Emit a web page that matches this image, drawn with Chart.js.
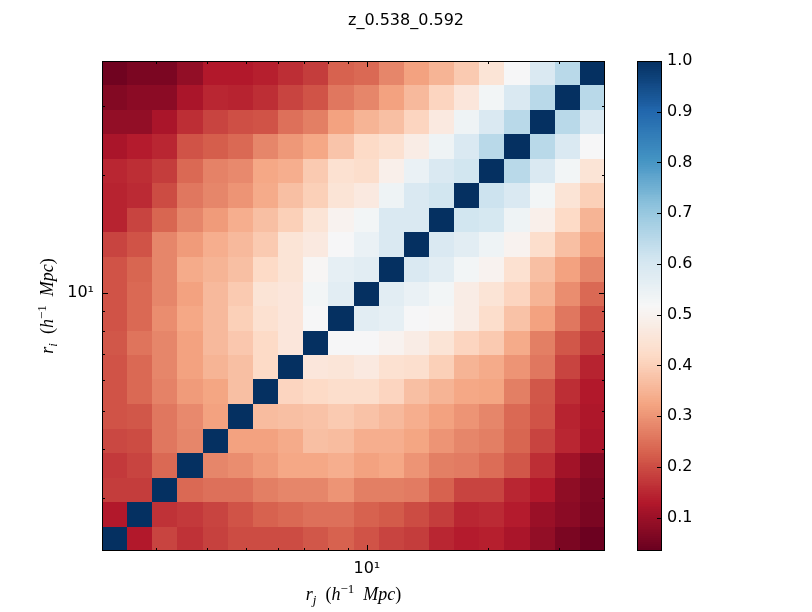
<!DOCTYPE html>
<html>
<head>
<meta charset="utf-8">
<title>z_0.538_0.592</title>
<script src="https://cdn.jsdelivr.net/npm/chart.js@4.4.1/dist/chart.umd.min.js"></script>
<style>
  html, body { margin: 0; padding: 0; background: #fff; }
  #wrap { width: 812px; height: 612px; }
</style>
</head>
<body>
<div id="wrap"><canvas id="corrChart" width="812" height="612"></canvas></div>
<script>
// ---- data ----
const chartTitle = 'z_0.538_0.592';

// log-spaced bin edges in h^-1 Mpc (same for r_i and r_j)
const binEdges = [2.200, 2.540, 2.933, 3.386, 3.910, 4.514, 5.212, 6.018, 6.948, 8.022,
                  9.263, 10.69, 12.35, 14.26, 16.46, 19.01, 21.94, 25.34, 29.26, 33.78, 39.00];

// correlation matrix, row 0 = smallest r_i (bottom), column 0 = smallest r_j (left)
const corrRows = [
  [1.00, 0.13, 0.19, 0.165, 0.185, 0.20, 0.20, 0.20, 0.215, 0.23, 0.21, 0.19, 0.18, 0.15, 0.135, 0.14, 0.12, 0.09, 0.06, 0.04],
  [0.13, 1.00, 0.165, 0.175, 0.19, 0.21, 0.23, 0.24, 0.25, 0.25, 0.23, 0.22, 0.20, 0.18, 0.15, 0.155, 0.135, 0.10, 0.08, 0.06],
  [0.18, 0.18, 1.00, 0.24, 0.25, 0.25, 0.27, 0.28, 0.28, 0.30, 0.27, 0.27, 0.265, 0.23, 0.19, 0.19, 0.15, 0.13, 0.085, 0.065],
  [0.175, 0.19, 0.24, 1.00, 0.28, 0.29, 0.31, 0.33, 0.33, 0.34, 0.32, 0.33, 0.30, 0.27, 0.265, 0.245, 0.215, 0.16, 0.11, 0.075],
  [0.195, 0.20, 0.26, 0.28, 1.00, 0.32, 0.32, 0.335, 0.37, 0.365, 0.34, 0.34, 0.325, 0.30, 0.28, 0.27, 0.235, 0.19, 0.15, 0.12],
  [0.21, 0.215, 0.26, 0.285, 0.32, 1.00, 0.365, 0.37, 0.375, 0.39, 0.375, 0.36, 0.34, 0.32, 0.30, 0.28, 0.24, 0.21, 0.145, 0.125],
  [0.21, 0.24, 0.275, 0.31, 0.325, 0.37, 1.00, 0.41, 0.42, 0.43, 0.43, 0.41, 0.37, 0.35, 0.33, 0.325, 0.27, 0.215, 0.16, 0.13],
  [0.21, 0.24, 0.28, 0.32, 0.35, 0.37, 0.42, 1.00, 0.46, 0.455, 0.47, 0.44, 0.435, 0.40, 0.35, 0.335, 0.30, 0.26, 0.19, 0.145],
  [0.215, 0.255, 0.28, 0.32, 0.36, 0.385, 0.42, 0.46, 1.00, 0.52, 0.52, 0.50, 0.48, 0.45, 0.41, 0.39, 0.335, 0.27, 0.215, 0.18],
  [0.21, 0.24, 0.29, 0.33, 0.36, 0.40, 0.44, 0.46, 0.52, 1.00, 0.57, 0.56, 0.52, 0.51, 0.48, 0.43, 0.375, 0.32, 0.26, 0.21],
  [0.21, 0.24, 0.28, 0.32, 0.36, 0.39, 0.45, 0.46, 0.53, 0.57, 1.00, 0.57, 0.55, 0.53, 0.48, 0.45, 0.41, 0.35, 0.29, 0.24],
  [0.21, 0.235, 0.28, 0.335, 0.35, 0.37, 0.42, 0.45, 0.51, 0.56, 0.57, 1.00, 0.59, 0.57, 0.53, 0.50, 0.44, 0.37, 0.32, 0.28],
  [0.19, 0.21, 0.28, 0.31, 0.34, 0.36, 0.39, 0.45, 0.47, 0.52, 0.55, 0.59, 1.00, 0.59, 0.57, 0.54, 0.50, 0.43, 0.37, 0.32],
  [0.145, 0.19, 0.235, 0.28, 0.31, 0.34, 0.37, 0.40, 0.45, 0.50, 0.53, 0.59, 0.59, 1.00, 0.61, 0.60, 0.54, 0.49, 0.42, 0.35],
  [0.145, 0.155, 0.20, 0.26, 0.28, 0.30, 0.335, 0.37, 0.40, 0.45, 0.47, 0.54, 0.59, 0.61, 1.00, 0.62, 0.59, 0.53, 0.45, 0.40],
  [0.15, 0.16, 0.18, 0.24, 0.275, 0.285, 0.33, 0.34, 0.39, 0.44, 0.43, 0.49, 0.55, 0.59, 0.61, 1.00, 0.65, 0.59, 0.53, 0.45],
  [0.12, 0.135, 0.15, 0.21, 0.225, 0.24, 0.28, 0.305, 0.33, 0.38, 0.42, 0.44, 0.48, 0.54, 0.59, 0.65, 1.00, 0.65, 0.59, 0.52],
  [0.09, 0.09, 0.12, 0.16, 0.19, 0.205, 0.21, 0.25, 0.27, 0.32, 0.35, 0.37, 0.41, 0.47, 0.54, 0.59, 0.65, 1.00, 0.65, 0.59],
  [0.07, 0.08, 0.08, 0.12, 0.15, 0.145, 0.16, 0.19, 0.21, 0.26, 0.28, 0.32, 0.36, 0.41, 0.46, 0.53, 0.59, 0.65, 1.00, 0.65],
  [0.045, 0.06, 0.06, 0.09, 0.13, 0.13, 0.14, 0.16, 0.18, 0.23, 0.24, 0.28, 0.32, 0.35, 0.39, 0.45, 0.52, 0.59, 0.65, 1.00]
];

const axisTicks = [3, 4, 5, 6, 7, 8, 9, 10, 20, 30];
const majorTicks = [10];
const cbarTicks = [0.1, 0.2, 0.3, 0.4, 0.5, 0.6, 0.7, 0.8, 0.9, 1.0];
const cbarMin = 0.034;
const cbarMax = 1.0;

// matplotlib RdBu anchor colours (0 -> 1)
const rdbuStops = [
  [103, 0, 31], [178, 24, 43], [214, 96, 77], [244, 165, 130], [253, 219, 199],
  [247, 247, 247], [209, 229, 240], [146, 197, 222], [67, 147, 195], [33, 102, 172], [5, 48, 97]
];

function rdbu(t) {
  t = Math.min(1, Math.max(0, t));
  const pos = t * (rdbuStops.length - 1);
  const k = Math.min(Math.floor(pos), rdbuStops.length - 2);
  const f = pos - k;
  const a = rdbuStops[k], b = rdbuStops[k + 1];
  const c = a.map((v, n) => Math.round(v + (b[n] - v) * f));
  return `rgb(${c[0]},${c[1]},${c[2]})`;
}
const norm = v => (v - cbarMin) / (cbarMax - cbarMin);

// text with sub/superscripts (mathtext-like axis labels)
function drawMath(ctx, parts, cx, baseY, angle) {
  ctx.save();
  ctx.translate(cx, baseY);
  ctx.rotate(angle);
  let total = 0;
  const items = parts.map(p => {
    const size = (p.sub || p.sup) ? 13 : 18;
    const font = (p.it ? 'italic ' : '') + size + 'px "Liberation Serif", serif';
    ctx.font = font;
    const w = ctx.measureText(p.t).width;
    total += w;
    return { ...p, font, w };
  });
  let xPos = -total / 2;
  ctx.textAlign = 'left';
  ctx.textBaseline = 'alphabetic';
  ctx.fillStyle = '#000';
  items.forEach(p => {
    ctx.font = p.font;
    const dy = p.sub ? 4 : p.sup ? -7 : 0;
    ctx.fillText(p.t, xPos, dy);
    xPos += p.w;
  });
  ctx.restore();
}

const heatmapPlugin = {
  id: 'heatmap',
  beforeDatasetsDraw(chart) {
    const { ctx, scales: { x, y } } = chart;
    ctx.save();
    corrRows.forEach((row, i) => {
      const top = Math.round(y.getPixelForValue(binEdges[i + 1]));
      const bottom = Math.round(y.getPixelForValue(binEdges[i]));
      row.forEach((v, j) => {
        const left = Math.round(x.getPixelForValue(binEdges[j]));
        const right = Math.round(x.getPixelForValue(binEdges[j + 1]));
        ctx.fillStyle = rdbu(norm(v));
        ctx.fillRect(left, top, right - left, bottom - top);
      });
    });
    ctx.restore();
  },
  afterDraw(chart) {
    const { ctx, chartArea: a, scales: { x, y, c } } = chart;
    ctx.save();
    ctx.strokeStyle = '#000';
    ctx.lineWidth = 1;

    // inward ticks on all four sides
    ctx.beginPath();
    axisTicks.forEach(v => {
      const len = majorTicks.includes(v) ? 6 : 3;
      const px = Math.round(x.getPixelForValue(v)) + 0.5;
      ctx.moveTo(px, a.bottom); ctx.lineTo(px, a.bottom - len);
      ctx.moveTo(px, a.top); ctx.lineTo(px, a.top + len);
      const py = Math.round(y.getPixelForValue(v)) + 0.5;
      ctx.moveTo(a.left, py); ctx.lineTo(a.left + len, py);
      ctx.moveTo(a.right, py); ctx.lineTo(a.right - len, py);
    });
    ctx.stroke();
    ctx.strokeRect(a.left + 0.5, a.top + 0.5, a.right - a.left - 1, a.bottom - a.top - 1);

    // colorbar
    const cbLeft = a.right + 32, cbRight = a.right + 57;
    const steps = 256;
    for (let k = 0; k < steps; k++) {
      const v0 = cbarMin + (cbarMax - cbarMin) * k / steps;
      const v1 = cbarMin + (cbarMax - cbarMin) * (k + 1) / steps;
      const yTop = Math.floor(c.getPixelForValue(v1));
      const yBot = Math.ceil(c.getPixelForValue(v0));
      ctx.fillStyle = rdbu((k + 0.5) / steps);
      ctx.fillRect(cbLeft, yTop, cbRight - cbLeft, yBot - yTop);
    }
    ctx.beginPath();
    cbarTicks.forEach(v => {
      const py = Math.round(c.getPixelForValue(v)) + 0.5;
      ctx.moveTo(cbRight, py); ctx.lineTo(cbRight - 5, py);
    });
    ctx.stroke();
    ctx.strokeRect(cbLeft + 0.5, a.top + 0.5, cbRight - cbLeft - 1, a.bottom - a.top - 1);

    // axis titles
    drawMath(ctx, [
      { t: 'r', it: 1 }, { t: 'j', it: 1, sub: 1 }, { t: '  (' }, { t: 'h', it: 1 },
      { t: '\u22121', sup: 1 }, { t: '  ' }, { t: 'Mpc', it: 1 }, { t: ')' }
    ], (a.left + a.right) / 2, 600, 0);
    drawMath(ctx, [
      { t: 'r', it: 1 }, { t: 'i', it: 1, sub: 1 }, { t: '  (' }, { t: 'h', it: 1 },
      { t: '\u22121', sup: 1 }, { t: '  ' }, { t: 'Mpc', it: 1 }, { t: ')' }
    ], 53, (a.top + a.bottom) / 2, -Math.PI / 2);
    ctx.restore();
  }
};

const tickFont = { family: 'DejaVu Sans', size: 16 };
const logTickList = s => { s.ticks = axisTicks.map(v => ({ value: v, major: majorTicks.includes(v) })); };
const logLabel = v => (majorTicks.includes(v) ? '10\u00b9' : '');
// no extra label overhang padding, the frame is placed by hand
const noPad = (s, size) => {
  s.paddingTop = 0; s.paddingBottom = 0; s.paddingLeft = 0; s.paddingRight = 0;
  if (s.isHorizontal()) s.height = size; else s.width = size;
};

new Chart(document.getElementById('corrChart'), {
  type: 'scatter',
  data: { datasets: [] },
  options: {
    responsive: false,
    animation: false,
    layout: { padding: { left: 0, right: 0, top: 0, bottom: 21 } },
    plugins: {
      legend: { display: false },
      tooltip: { enabled: false },
      title: {
        display: true,
        text: chartTitle,
        color: '#000',
        font: { family: 'DejaVu Sans', size: 16, weight: 'normal', lineHeight: 1.2 },
        padding: { top: 11, bottom: 30.8 }
      }
    },
    scales: {
      x: {
        type: 'logarithmic',
        position: 'bottom',
        min: binEdges[0],
        max: binEdges[binEdges.length - 1],
        grid: { display: false, drawTicks: false },
        border: { display: false },
        afterBuildTicks: logTickList,
        afterFit: s => noPad(s, 40),
        ticks: { autoSkip: false, maxRotation: 0, minRotation: 0, padding: 8, color: '#000', font: tickFont, callback: logLabel }
      },
      y: {
        type: 'logarithmic',
        position: 'left',
        min: binEdges[0],
        max: binEdges[binEdges.length - 1],
        grid: { display: false, drawTicks: false },
        border: { display: false },
        afterBuildTicks: logTickList,
        afterFit: s => noPad(s, 102),
        ticks: { autoSkip: false, padding: 8, color: '#000', font: tickFont, callback: logLabel }
      },
      c: {
        type: 'linear',
        axis: 'y',
        position: 'right',
        min: cbarMin,
        max: cbarMax,
        grid: { display: false, drawTicks: false },
        border: { display: false },
        afterBuildTicks: s => { s.ticks = cbarTicks.map(v => ({ value: v })); },
        afterFit: s => noPad(s, 207),
        ticks: { autoSkip: false, padding: 62, color: '#000', font: tickFont, callback: v => v.toFixed(1) }
      }
    }
  },
  plugins: [heatmapPlugin]
});
</script>
</body>
</html>
